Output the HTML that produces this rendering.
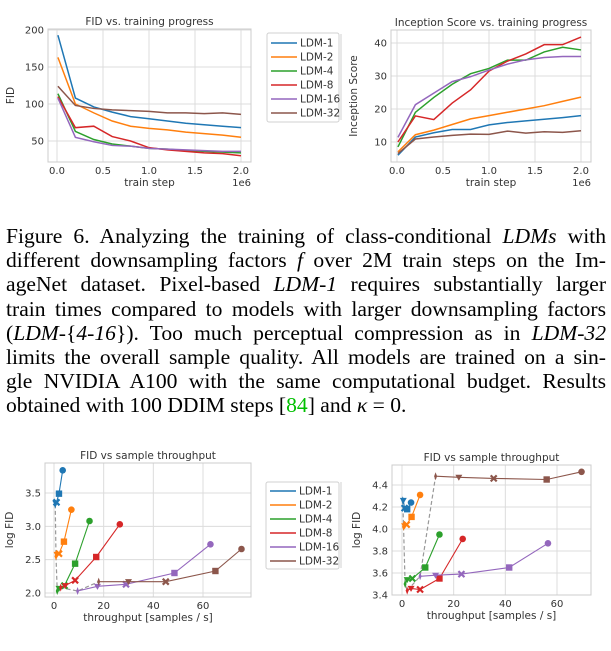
<!DOCTYPE html>
<html><head><meta charset="utf-8"><style>
body{margin:0;background:#fff;width:611px;height:651px;overflow:hidden;position:relative}
svg{position:absolute;left:0;top:0}
.cap{position:absolute;left:6px;width:600px;font-family:"Liberation Serif",serif;font-size:21.6px;color:#000}
.ln{display:block;height:24.2px;line-height:24.2px;text-align:justify;text-align-last:justify;white-space:nowrap}
.ln.last{text-align-last:left}
.g{color:#00c000}
</style></head><body>
<svg id="fig" width="611" height="651"></svg>
<div class="cap" style="top:224px">
<span class="ln">Figure 6. Analyzing the training of class-conditional <i>LDMs</i> with</span>
<span class="ln">different downsampling factors <i>f</i> over 2M train steps on the Im-</span>
<span class="ln">ageNet dataset. Pixel-based <i>LDM-1</i> requires substantially larger</span>
<span class="ln">train times compared to models with larger downsampling factors</span>
<span class="ln">(<i>LDM</i>-{<i>4-16</i>}). Too much perceptual compression as in <i>LDM-32</i></span>
<span class="ln">limits the overall sample quality. All models are trained on a sin-</span>
<span class="ln">gle NVIDIA A100 with the same computational budget. Results</span>
<span class="ln last">obtained with 100 DDIM steps [<span class="g">84</span>] and <i>κ</i> = 0.</span>
</div>
<script>
const seriesNames=["LDM-1","LDM-2","LDM-4","LDM-8","LDM-16","LDM-32"];
const colors=["#1f77b4","#ff7f0e","#2ca02c","#d62728","#9467bd","#8c564b"];
const steps=[0.01,0.2,0.4,0.6,0.8,1.0,1.2,1.4,1.6,1.8,2.0];
const fid1=[193,108,96,89,83,80,77,74,72,70,68];
const fid2=[163,100,88,77,70,67,65,62,60,58,55];
const fid4=[114,63,52,46,43,40,39,37,36,35,34];
const fid8=[110,68,70,56,50,41,38,36,34,33,30];
const fid16=[108,55,49,44,43,40,39,38,37,36,36];
const fid32=[124,98,94,92,91,90,88,88,87,88,86];
const is1=[6,11.5,12.8,13.8,13.8,15.2,15.9,16.4,16.9,17.4,18];
const is2=[7,12.2,13.6,15.3,17,18,19,20,21,22.3,23.6];
const is4=[8.5,19,23.5,27.5,30.7,32.3,34.8,34.8,37.3,38.7,37.9];
const is8=[10,17.9,16.8,21.8,25.8,31.5,34.5,36.7,39.5,39.5,41.8];
const is16=[11.4,21.3,24.8,28.3,29.8,31.8,33.6,34.9,35.6,35.9,35.9];
const is32=[6.5,10.9,11.5,12,12.4,12.3,13.3,12.7,13.1,12.9,13.4];
// throughput charts: per model, 5 points ordered diamond, tri, X, square, circle
const thrA=[[0.5,0.7,1,2,3.5],[0.8,1.2,2,4,7],[1.3,2,4.2,8.5,14.3],[2.7,4.5,8.5,17,26.5],[9.5,17.5,29,48.5,63],[18,30,45,65,75.5]];
const logA=[[3.33,3.35,3.36,3.49,3.84],[2.55,2.58,2.59,2.77,3.25],[2.03,2.07,2.11,2.44,3.08],[2.08,2.11,2.19,2.54,3.03],[2.03,2.10,2.13,2.30,2.73],[2.17,2.17,2.17,2.33,2.66]];
const thrB=[[0.3,0.5,1,2,3.5],[0.6,1,1.8,3.7,7],[1.2,2,4,9,14.5],[2,3.5,7,14.5,23.5],[7,13,23,41.5,56.5],[13,22,35.5,56,69.5]];
const logB=[[4.26,4.26,4.19,4.18,4.24],[4.02,4.03,4.04,4.11,4.31],[3.50,3.54,3.55,3.65,3.95],[3.44,3.46,3.45,3.55,3.91],[3.57,3.58,3.59,3.65,3.87],[4.48,4.47,4.46,4.45,4.52]];
const xTicksA=[0.0,0.5,1.0,1.5,2.0];
const fidTicks=[50,100,150,200];
const isTicks=[10,20,30,40];
const thrTicksA=[0,20,40,60];
const logTicksA=[2.0,2.5,3.0,3.5];
const logTicksB=[3.4,3.6,3.8,4.0,4.2,4.4];

const NS="http://www.w3.org/2000/svg";
const svg=document.getElementById('fig');
function mk(tag,attrs,parent,txt){const e=document.createElementNS(NS,tag);for(const k in attrs)e.setAttribute(k,attrs[k]);if(txt!==undefined)e.textContent=txt;(parent||svg).appendChild(e);return e;}
function lin(d0,d1,r0,r1){return v=>r0+(v-d0)*(r1-r0)/(d1-d0);}
const F='"DejaVu Sans","Liberation Sans",sans-serif';

function axes(o){
 const g=mk('g',{});
 
 
 const X=lin(o.xd[0],o.xd[1],o.xr[0],o.xr[1]), Y=lin(o.yd[0],o.yd[1],o.yr[0],o.yr[1]);
 o.xt.forEach(t=>{const x=X(t);mk('line',{x1:x,x2:x,y1:o.box[1],y2:o.box[3],stroke:'#dcdcdc','stroke-width':1},g);
  const tl=mk('text',{x:x,y:o.box[3]+12,'text-anchor':'middle','font-size':10,fill:'#333','font-family':F},g,o.xfmt(t));
  });
 o.yt.forEach(t=>{const y=Y(t);mk('line',{x1:o.box[0],x2:o.box[2],y1:y,y2:y,stroke:'#dcdcdc','stroke-width':1},g);
  const tl=mk('text',{x:o.box[0]-4,y:y+3.5,'text-anchor':'end','font-size':10,fill:'#333','font-family':F},g,o.yfmt(t));
  });
 mk('rect',{x:o.box[0],y:o.box[1],width:o.box[2]-o.box[0],height:o.box[3]-o.box[1],fill:'none',stroke:'#cccccc','stroke-width':1},g);
 const t=mk('text',{x:(o.box[0]+o.box[2])/2,y:o.box[1]-4,'text-anchor':'middle','font-size':10.5,fill:'#333','font-family':F},g,o.title);
 
 const xl=mk('text',{x:(o.box[0]+o.box[2])/2,y:o.box[3]+24,'text-anchor':'middle','font-size':10.5,fill:'#333','font-family':F},g,o.xlabel);
 
 const cy=(o.box[1]+o.box[3])/2;
 const yl=mk('text',{x:o.ylx,y:cy,'text-anchor':'middle','font-size':10.5,fill:'#333','font-family':F,transform:`rotate(-90 ${o.ylx} ${cy})`},g,o.ylabel);
 
 if(o.sci){const s=mk('text',{x:o.box[2],y:o.box[3]+24,'text-anchor':'end','font-size':10,fill:'#333','font-family':F},g,'1e6');
  }
 return {g,X,Y};
}
function lines(ax,xs,ys,name){ys.forEach((arr,i)=>{const p=mk('polyline',{points:arr.map((v,j)=>ax.X(xs[j])+','+ax.Y(v)).join(' '),fill:'none',stroke:colors[i],'stroke-width':1.5},ax.g);
 });}
function marker(g,k,x,y,c){
 if(k==4)return mk('circle',{cx:x,cy:y,r:3.3,fill:c},g);
 if(k==3)return mk('rect',{x:x-3.2,y:y-3.2,width:6.4,height:6.4,fill:c},g);
 if(k==2)return mk('path',{d:`M${x-3},${y-3}L${x+3},${y+3}M${x+3},${y-3}L${x-3},${y+3}`,stroke:c,'stroke-width':2.2},g);
 if(k==1)return mk('path',{d:`M${x-3.5},${y-2.5}L${x+3.5},${y-2.5}L${x},${y+3.5}Z`,fill:c},g);
 return mk('path',{d:`M${x},${y-4}L${x+1.5},${y}L${x},${y+4}L${x-1.5},${y}Z`,fill:c},g);
}
function scatter(ax,xs,ys,name){
 const dp=xs.map((a,i)=>ax.X(a[0])+','+ax.Y(ys[i][0])).join(' ');
 const d=mk('polyline',{points:dp,fill:'none',stroke:'#999','stroke-width':1.2,'stroke-dasharray':'4,2.5'},ax.g);
 
 xs.forEach((a,i)=>{const p=mk('polyline',{points:a.map((v,j)=>ax.X(v)+','+ax.Y(ys[i][j])).join(' '),fill:'none',stroke:colors[i],'stroke-width':1.1},ax.g);
  
  a.forEach((v,j)=>{const m=marker(ax.g,j,ax.X(v),ax.Y(ys[i][j]),colors[i]);
   });});
}
function legend(x,y,w,h,y0,dy,name){
 const g=mk('g',{});
 mk('rect',{x:x,y:y,width:w,height:h,fill:'#fff',stroke:'#d0d0d0',rx:2},g);
 seriesNames.forEach((s,i)=>{const yy=y0+i*dy;
  mk('line',{x1:x+4,x2:x+30,y1:yy,y2:yy,stroke:colors[i],'stroke-width':1.6},g);
  const t=mk('text',{x:x+33,y:yy+3.5,'font-size':10.5,fill:'#333','font-family':F},g,s);
  });
}
const f1=v=>v.toFixed(1);const f0=v=>String(v);
const A=axes({name:'fid-vs-training-chart',box:[48,29,251,162],xd:[0,2],xr:[57,241],yd:[50,200],yr:[141,30],xt:xTicksA,yt:fidTicks,xfmt:f1,yfmt:f0,title:'FID vs. training progress',xlabel:'train step',ylabel:'FID',ylx:14,sci:true});
lines(A,steps,[fid1,fid2,fid4,fid8,fid16,fid32],'fid-line');
legend(267,33,72,89,43,14,'legend-top');
const B=axes({name:'inception-score-chart',box:[391,30,591,162],xd:[0,2],xr:[397,581],yd:[10,40],yr:[142,43],xt:xTicksA,yt:isTicks,xfmt:f1,yfmt:f0,title:'Inception Score vs. training progress',xlabel:'train step',ylabel:'Inception Score',ylx:357,sci:true});
lines(B,steps,[is1,is2,is4,is8,is16,is32],'is-line');
mk('line',{x1:341,x2:341,y1:34,y2:120,stroke:'#d0d0d0'});
const C=axes({name:'fid-vs-throughput-chart-left',box:[45,463,251,597],xd:[0,60],xr:[54,203],yd:[2.0,3.5],yr:[593,493],xt:thrTicksA,yt:logTicksA,xfmt:f0,yfmt:f1,title:'FID vs sample throughput',xlabel:'throughput [samples / s]',ylabel:'log FID',ylx:13});
scatter(C,thrA,logA,'throughput-left');
legend(266,482,73,87,491,14,'legend-bottom');
const D=axes({name:'fid-vs-throughput-chart-right',box:[392,465,591,595],xd:[0,60],xr:[402,557],yd:[3.4,4.4],yr:[595,485],xt:thrTicksA,yt:logTicksB,xfmt:f0,yfmt:f1,title:'FID vs sample throughput',xlabel:'throughput [samples / s]',ylabel:'log FID',ylx:360});
scatter(D,thrB,logB,'throughput-right');
mk('line',{x1:341,x2:341,y1:482,y2:568,stroke:'#d0d0d0'});
</script>
</body></html>
